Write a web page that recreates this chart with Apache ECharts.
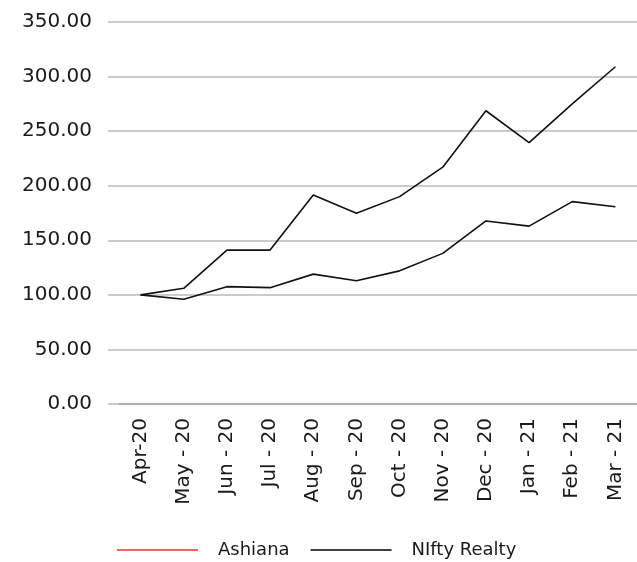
<!DOCTYPE html>
<html>
<head>
<meta charset="utf-8">
<script src="https://cdn.jsdelivr.net/npm/echarts@6/dist/echarts.min.js"></script>
<style>
  html, body { margin: 0; padding: 0; background: #fff; }
  #main { width: 637px; height: 562px; }
</style>
</head>
<body>
<div id="main"></div>
<script>
// 数据
var months = ['Apr-20', 'May - 20', 'Jun - 20', 'Jul - 20', 'Aug - 20', 'Sep - 20',
  'Oct - 20', 'Nov - 20', 'Dec - 20', 'Jan - 21', 'Feb - 21', 'Mar - 21'];
var ashiana = [100, 106, 141, 141, 191.5, 174.7, 190, 217, 268.7, 239.4, 275, 309];
var niftyRealty = [100, 96, 107.5, 106.6, 119, 113, 122, 138, 167.7, 163, 185.4, 180.8];

var chart = echarts.init(document.getElementById('main'));

var option = {
  animation: false,
  textStyle: { fontFamily: 'DejaVu Sans', color: '#1a1a1a' },
  grid: { left: 119, right: 0, top: 22, bottom: 158 },
  legend: {
    bottom: -2,
    left: 112,
    itemWidth: 81,
    itemHeight: 1.5,
    itemGap: 21,
    textStyle: { fontSize: 18, color: '#1a1a1a', padding: [0, 0, 0, 15] },
    data: [
      { name: 'Ashiana', icon: 'rect', itemStyle: { color: '#e8322d' } },
      { name: 'NIfty Realty', icon: 'rect', itemStyle: { color: '#000' } }
    ]
  },
  xAxis: {
    type: 'category',
    data: months,
    boundaryGap: true,
    axisLine: { lineStyle: { color: '#a8a8a8', width: 1.5 } },
    axisTick: { length: 8, lineStyle: { color: '#a8a8a8', width: 1.5 } },
    axisLabel: { rotate: 90, fontSize: 20, color: '#1a1a1a', margin: 14 }
  },
  yAxis: {
    type: 'value',
    min: 0,
    max: 350,
    interval: 50,
    axisLine: { show: false },
    axisTick: { show: true, length: 11, lineStyle: { color: '#bababa', width: 1.5 } },
    splitLine: { lineStyle: { color: '#bababa', width: 1.5 } },
    axisLabel: {
      fontSize: 20, color: '#1a1a1a', margin: 27,
      formatter: function (v) { return v.toFixed(2); }
    }
  },
  series: [
    {
      name: 'Ashiana',
      type: 'line',
      data: ashiana,
      symbol: 'none',
      itemStyle: { color: '#e8322d' },
      lineStyle: { color: '#111', width: 1.6 }
    },
    {
      name: 'NIfty Realty',
      type: 'line',
      data: niftyRealty,
      symbol: 'none',
      itemStyle: { color: '#000' },
      lineStyle: { color: '#111', width: 1.6 }
    }
  ]
};
chart.setOption(option);
</script>
</body>
</html>
